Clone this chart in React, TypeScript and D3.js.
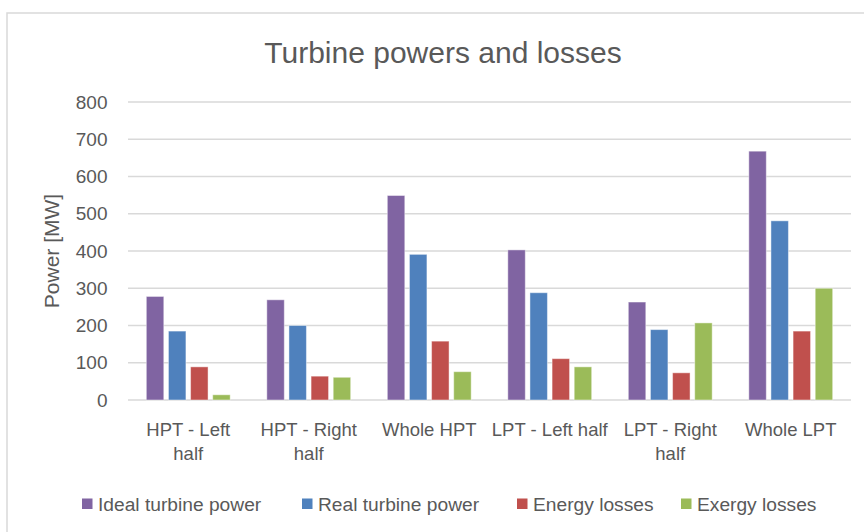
import React from "react";
import * as d3 from "d3";

const categories = ["HPT - Left half", "HPT - Right half", "Whole HPT", "LPT - Left half", "LPT - Right half", "Whole LPT"];
const categoryLines = [["HPT - Left", "half"], ["HPT - Right", "half"], ["Whole HPT"], ["LPT - Left half"], ["LPT - Right", "half"], ["Whole LPT"]];
const seriesNames = ["Ideal turbine power", "Real turbine power", "Energy losses", "Exergy losses"];
const idealPower = [278, 269, 549, 403, 263, 668];
const realPower = [185, 200, 391, 288, 189, 481];
const energyLosses = [89, 64, 158, 111, 73, 185];
const exergyLosses = [14, 61, 76, 89, 207, 300];
const yTicks = [0, 100, 200, 300, 400, 500, 600, 700, 800];

const seriesValues = [idealPower, realPower, energyLosses, exergyLosses];
const colors = ["#8064A2", "#4F81BD", "#C0504D", "#9BBB59"];
const legendX = [82, 302, 517, 681];

const W = 864, H = 532;
const plot = { left: 128, right: 851, top: 102, bottom: 400 };
const FONT = "'Liberation Sans', Arial, sans-serif";
const TEXT = "#595959";

export default function App() {
  const x0 = d3.scaleBand<string>().domain(categories).range([plot.left, plot.right]).padding(0);
  const x1 = d3.scaleBand<string>().domain(seriesNames)
    .range([x0.bandwidth() * 0.152, x0.bandwidth() * 0.848]).paddingInner(0.21).paddingOuter(0);
  const y = d3.scaleLinear().domain([0, 800]).range([plot.bottom, plot.top]);

  return (
    <svg width={W} height={H} style={{ position: "absolute", left: 0, top: 0, background: "#fff" }}
      fontFamily={FONT}>
      <rect x={0} y={0} width={W} height={H} fill="#fff" />
      <rect x={7} y={13} width={W + 20} height={H + 20} fill="#fff" stroke="#d9d9d9" strokeWidth={1.5} />
      <text x={443} y={62.5} textAnchor="middle" fontSize={30} fill={TEXT}>Turbine powers and losses</text>

      {yTicks.map((t) => (
        <g key={t}>
          <line x1={plot.left} x2={plot.right} y1={y(t)} y2={y(t)} stroke="#d9d9d9" strokeWidth={1.5} />
          <text x={107.5} y={y(t)} dy="0.35em" textAnchor="end" fontSize={19} fill={TEXT}>{t}</text>
        </g>
      ))}

      <text transform={`translate(59,${(plot.top + plot.bottom) / 2}) rotate(-90)`} textAnchor="middle"
        fontSize={21} fill={TEXT}>Power [MW]</text>

      {categories.map((c, ci) => (
        <g key={c} transform={`translate(${x0(c)},0)`}>
          {seriesNames.map((s, si) => {
            const v = seriesValues[si][ci];
            return (
              <rect key={s} x={x1(s)} y={y(v)} width={x1.bandwidth()} height={y(0) - y(v)}
                fill={colors[si]} stroke="#ffffff" strokeOpacity={0.45} strokeWidth={1} />
            );
          })}
        </g>
      ))}

      {categories.map((c, ci) => (
        <text key={c} x={(x0(c) as number) + x0.bandwidth() / 2} textAnchor="middle" fontSize={18.5} fill={TEXT}>
          {categoryLines[ci].map((ln, li) => (
            <tspan key={li} x={(x0(c) as number) + x0.bandwidth() / 2} y={436 + li * 23.5}>{ln}</tspan>
          ))}
        </text>
      ))}

      {seriesNames.map((s, si) => (
        <g key={s} transform={`translate(${legendX[si]},0)`}>
          <rect x={0} y={498.5} width={10.5} height={10.5} fill={colors[si]} />
          <text x={16} y={511} fontSize={19.2} fill={TEXT}>{s}</text>
        </g>
      ))}
    </svg>
  );
}
